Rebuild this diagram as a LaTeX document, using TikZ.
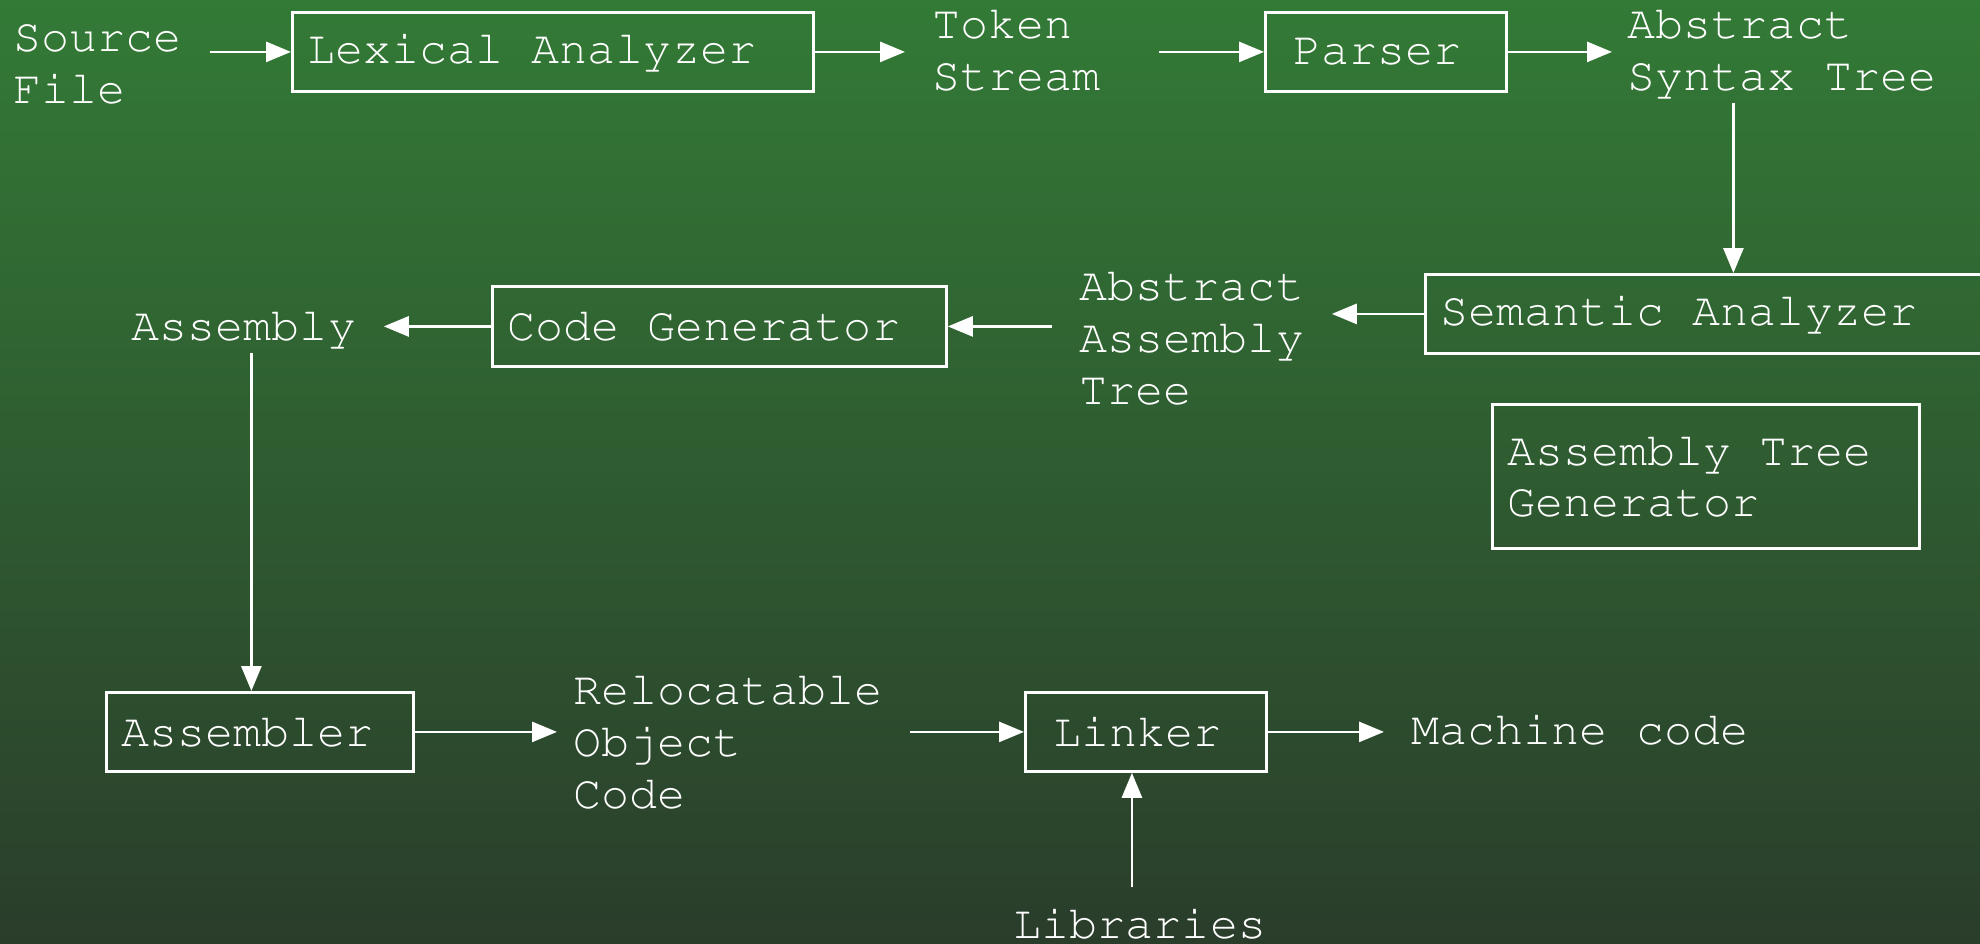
\documentclass[tikz,border=0pt]{standalone}
\usepackage[T1]{fontenc}
\usepackage{courier}
\usepackage{tikz}
\usetikzlibrary{arrows.meta}
\definecolor{boardtop}{HTML}{337A36}
\definecolor{boardbottom}{HTML}{2A3D2B}
\tikzset{stage/.style = {draw=white, line width=0.8pt, minimum height=0.79cm,
                         inner xsep=0.15cm, align=flush left, text width=#1,
                         anchor=north west},
         datum/.style = {inner xsep=0.27cm, inner ysep=0.05cm, align=flush left,
                         anchor=base west},
         flow/.style = {draw=white, line width=0.8pt,
                        -{Triangle[length=0.25cm, width=0.2cm]}}}

\begin{document}
\begin{tikzpicture}[every node/.style={font=\fontsize{13.3}{14.7}\selectfont\ttfamily,
                                       text=white}]
      \useasboundingbox (0, 0) rectangle (19.8, -9.44);
      \shade [top color=boardtop, bottom color=boardbottom] (0, 0) rectangle (19.8, -9.44);

      \node [datum] (src) at (-0.14, -1.03) {Source\\File};
      \node [stage=4.91cm] (lexer) at (2.91, -0.11) {Lexical Analyzer};
      \node [datum] (tokens) at (9.05, -0.90) {Token\\Stream};
      \node [stage=1.85cm, inner xsep=0.28cm] (parser) at (12.64, -0.11) {Parser};
      \node [datum] (ast) at (16.00, -0.90) {Abstract\\Syntax Tree};

      \node [stage=5.86cm] (semantic) at (14.24, -2.73) {Semantic Analyzer};
      \node [datum] (aat) at (10.52, -4.04) {Abstract\\Assembly\\Tree};
      \node [stage=4.24cm, minimum height=0.80cm] (codegen) at (4.91, -2.85) {Code Generator};
      \node [datum] (asm) at (1.04, -3.40) {Assembly};
      \node [stage=3.97cm, minimum height=1.44cm] (atgen) at (14.91, -4.03) {Assembly Tree\\Generator};

      \node [stage=2.77cm] (assembler) at (1.05, -6.91) {Assembler};
      \node [datum] (rel) at (5.46, -8.08) {Relocatable\\Object\\Code};
      \node [stage=1.85cm, inner xsep=0.28cm] (linker) at (10.24, -6.91) {Linker};
      \node [datum] (mc) at (13.84, -7.44) {Machine code};
      \node [datum] (libs) at (9.86, -9.38) {Libraries};

      \draw [flow] (src.east |- lexer.west) -- (lexer.west);
      \draw [flow] (lexer.east) -- (lexer.east -| tokens.west);
      \draw [flow, shorten <=0.3cm] (tokens.east |- parser.west) -- (parser.west);
      \draw [flow, shorten >=-0.12cm] (parser.east) -- (parser.east -| ast.west);
      \draw [flow] (ast.south -| semantic.north) -- (semantic.north);
      \draw [flow] (semantic.west) -- (semantic.west -| aat.east);
      \draw [flow] (aat.west |- codegen.east) -- (codegen.east);
      \draw [flow] (codegen.west) -- (codegen.west -| asm.east);
      \draw [flow] ([xshift=0.075cm]asm.south) -- ([xshift=0.075cm]asm.south |- assembler.north);
      \draw [flow, shorten >=-0.11cm] (assembler.east) -- (assembler.east -| rel.west);
      \draw [flow] (rel.east |- linker.west) -- (linker.west);
      \draw [flow] (linker.east) -- (linker.east -| mc.west);
      \draw [flow, shorten <=0.15cm] ([xshift=-0.08cm]libs.north) -- ([xshift=-0.08cm]libs.north |- linker.south);
    \end{tikzpicture}
\end{document}
